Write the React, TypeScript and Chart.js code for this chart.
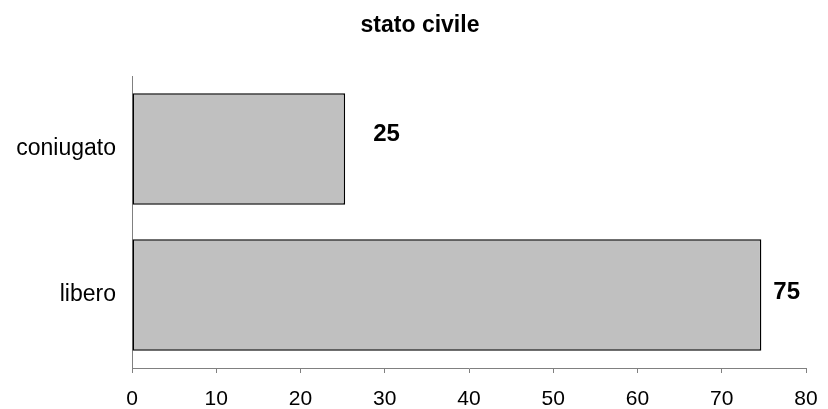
import React, { useEffect, useRef } from "react";
import { Chart, registerables } from "chart.js";

Chart.register(...registerables);

const categories = ["coniugato", "libero"];
const values = [25.3, 74.7];
const valueLabels = ["25", "75"];
const xTicks = [0, 10, 20, 30, 40, 50, 60, 70, 80];
const titleText = "stato civile";

const FONT = "'Liberation Sans', Arial, sans-serif";

const labelPlugin = {
  id: "valueLabels",
  afterDatasetsDraw(chart: any) {
    const ctx = chart.ctx;
    const meta = chart.getDatasetMeta(0);
    const dx = [28, 12];
    const dy = [-15, -3];
    ctx.save();
    ctx.font = `bold 24px ${FONT}`;
    ctx.fillStyle = "#000";
    ctx.textAlign = "left";
    ctx.textBaseline = "middle";
    meta.data.forEach((el: any, i: number) => {
      ctx.fillText(valueLabels[i], el.x + dx[i], el.y + dy[i]);
    });
    ctx.restore();
  },
};

const titlePlugin = {
  id: "customTitle",
  afterDraw(chart: any) {
    const ctx = chart.ctx;
    ctx.save();
    ctx.font = `bold 23px ${FONT}`;
    ctx.fillStyle = "#000";
    ctx.textAlign = "center";
    ctx.textBaseline = "alphabetic";
    ctx.fillText(titleText, 420, 32);
    ctx.restore();
  },
};

export default function App() {
  const ref = useRef<HTMLCanvasElement>(null);
  useEffect(() => {
    document.body.style.margin = "0";
    const chart = new Chart(ref.current!, {
      type: "bar",
      data: {
        labels: categories,
        datasets: [
          {
            data: values,
            backgroundColor: "#C0C0C0",
            borderColor: "#000000",
            borderWidth: 1.5,
            borderSkipped: false,
            categoryPercentage: 1,
            barPercentage: 0.765,
          },
        ],
      },
      options: {
        indexAxis: "y",
        animation: false,
        responsive: false,
        layout: { padding: { left: 0, right: 22, top: 76, bottom: 0 } },
        plugins: {
          legend: { display: false },
          tooltip: { enabled: false },
          title: { display: false },
        },
        scales: {
          x: {
            min: 0,
            max: 80,
            afterBuildTicks: (s: any) => {
              s.ticks = xTicks.map((v) => ({ value: v }));
            },
            afterFit: (s: any) => {
              s.height = 41;
              s.paddingRight = 0;
              s.paddingLeft = 0;
            },
            grid: {
              display: true,
              drawOnChartArea: false,
              drawTicks: true,
              tickLength: 5,
              color: "#808080",
            },
            border: { display: true, color: "#808080", width: 1 },
            ticks: {
              color: "#000",
              font: { family: FONT, size: 21 },
              padding: 14,
              maxRotation: 0,
            },
          },
          y: {
            afterFit: (s: any) => {
              s.width = 132;
            },
            grid: { display: false, drawTicks: false },
            border: { display: true, color: "#808080", width: 1 },
            ticks: {
              color: "#000",
              font: { family: FONT, size: 23 },
              padding: 16,
            },
          },
        },
      },
      plugins: [labelPlugin, titlePlugin],
    } as any);
    return () => chart.destroy();
  }, []);
  return (
    <div style={{ width: 828, height: 409 }}>
      <canvas ref={ref} width={828} height={409} />
    </div>
  );
}
